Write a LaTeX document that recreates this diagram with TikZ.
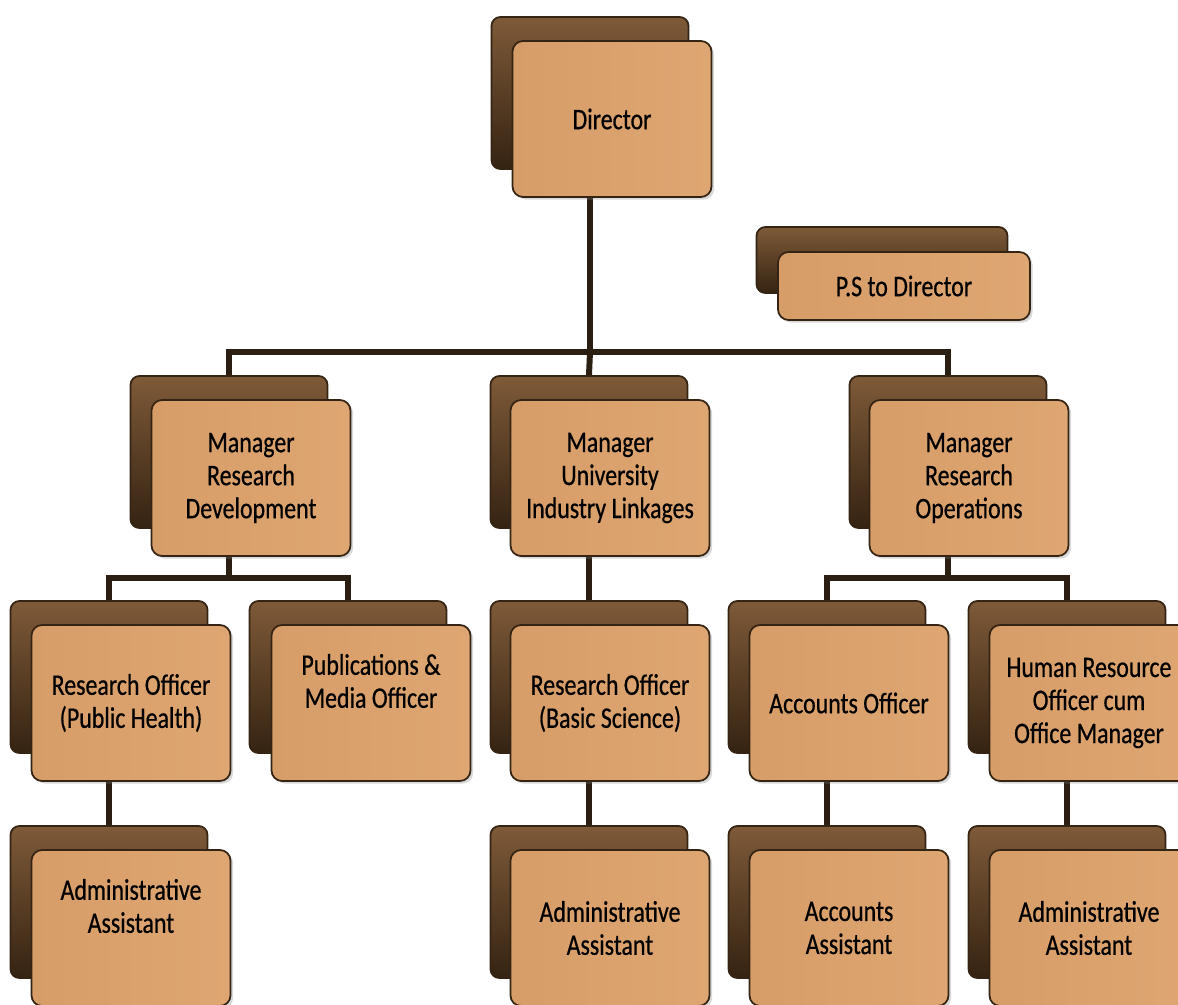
\documentclass[tikz,border=0pt]{standalone}
\usepackage{fontspec}
\setmainfont{Carlito}[FakeStretch=0.8,FakeBold=0.6]
\usetikzlibrary{positioning,shadows,backgrounds}
\definecolor{boxtan}{HTML}{D79D68}
\definecolor{boxtanlight}{HTML}{DEA672}
\definecolor{boxedge}{HTML}{352413}
\definecolor{backtop}{HTML}{7E5A38}
\definecolor{backmid}{HTML}{3F2B17}
\definecolor{backbot}{HTML}{352312}
\definecolor{linkbrown}{HTML}{2B1F13}

\begin{document}
\begin{tikzpicture}[
            x=0.02cm,y=-0.02cm,
            backbox/.style={
              draw=boxedge,
              line width=1pt,
              rounded corners=5pt,
              top color=backtop,
              middle color=backmid,
              bottom color=backbot,
              minimum width=3.94cm,
              minimum height=3.04cm
            },
            frontbox/.style={
              draw=boxedge,
              line width=1pt,
              rounded corners=6pt,
              left color=boxtan,
              right color=boxtanlight,
              drop shadow={opacity=0.3,shadow xshift=1.5pt,shadow yshift=-1.5pt},
              minimum width=3.98cm,
              minimum height=3.12cm,
              align=center,
              font=\fontsize{17}{18.8}\selectfont
            },
            every label/.style={align=center,font=\fontsize{17}{18.8}\selectfont},
            link/.style={draw=linkbrown,line width=3.4pt}
            ]
            \useasboundingbox (0,0) rectangle (1178,1005);
            \clip (0,0) rectangle (1178,1005);

            % top
            \node[backbox] (dirb) at (590,93) {};
            \node[frontbox] (dir) at (612,119) {Director};

            \node[backbox,minimum width=5.02cm,minimum height=1.32cm] (psb) at (882,260) {};
            \node[frontbox,minimum width=5.04cm,minimum height=1.36cm] (ps) at (904,286) 
              {P.S to Director};

            % managers
            \node[backbox] (mrdb) at (229,452) {};
            \node[frontbox] (mrd) at (251,478) 
              {Manager\\Research\\Development};
            \node[backbox] (muilb) at (589,452) {};
            \node[frontbox] (muil) at (610,478) 
              {Manager\\University\\Industry Linkages};
            \node[backbox] (mrob) at (948,452) {};
            \node[frontbox] (mro) at (969,478) 
              {Manager\\Research\\Operations};

            % officers
            \node[backbox] (rophb) at (109,677) {};
            \node[frontbox] (roph) at (131,703) 
              {Research Officer\\(Public Health)};
            \node[backbox] (pubb) at (348,677) {};
            \node[frontbox,label={[yshift=0.44cm]center:Publications \&\\Media Officer}] (pub) at (371,703) {};
            \node[backbox] (robsb) at (589,677) {};
            \node[frontbox] (robs) at (610,703) 
              {Research Officer\\(Basic Science)};
            \node[backbox] (accb) at (827,677) {};
            \node[frontbox] (acc) at (849,703) 
              {Accounts Officer};
            \node[backbox] (hrb) at (1067,677) {};
            \node[frontbox] (hr) at (1089,703) 
              {Human Resource\\Officer cum\\Office Manager};

            % assistants
            \node[backbox] (aaphb) at (109,902) {};
            \node[frontbox,label={[yshift=0.44cm]center:Administrative\\Assistant}] (aaph) at (131,928) {};
            \node[backbox] (aabsb) at (589,902) {};
            \node[frontbox] (aabs) at (610,928) 
              {Administrative\\Assistant};
            \node[backbox] (aasb) at (827,902) {};
            \node[frontbox] (aas) at (849,928) 
              {Accounts\\Assistant};
            \node[backbox] (aahrb) at (1067,902) {};
            \node[frontbox] (aahr) at (1089,928) 
              {Administrative\\Assistant};

            \begin{scope}[on background layer]
            \coordinate (topbar) at (590,352);
            \coordinate (mrdbar) at (229,578);
            \coordinate (mrobar) at (948,578);
            \draw[link] (dirb.south) -- (topbar);
            \draw[link] (mrdb.north) |- (topbar) -| (mrob.north);
            \draw[link] (topbar) -- (muilb.north);
            \draw[link] (mrdb.south) -- (mrdbar);
            \draw[link] (rophb.north) |- (mrdbar) -| (pubb.north);
            \draw[link] (muilb.south) -- (robsb.north);
            \draw[link] (mrob.south) -- (mrobar);
            \draw[link] (accb.north) |- (mrobar) -| (hrb.north);
            \draw[link] (rophb.south) -- (aaphb.north);
            \draw[link] (robsb.south) -- (aabsb.north);
            \draw[link] (accb.south) -- (aasb.north);
            \draw[link] (hrb.south) -- (aahrb.north);
            \end{scope}
\end{tikzpicture}
\end{document}
